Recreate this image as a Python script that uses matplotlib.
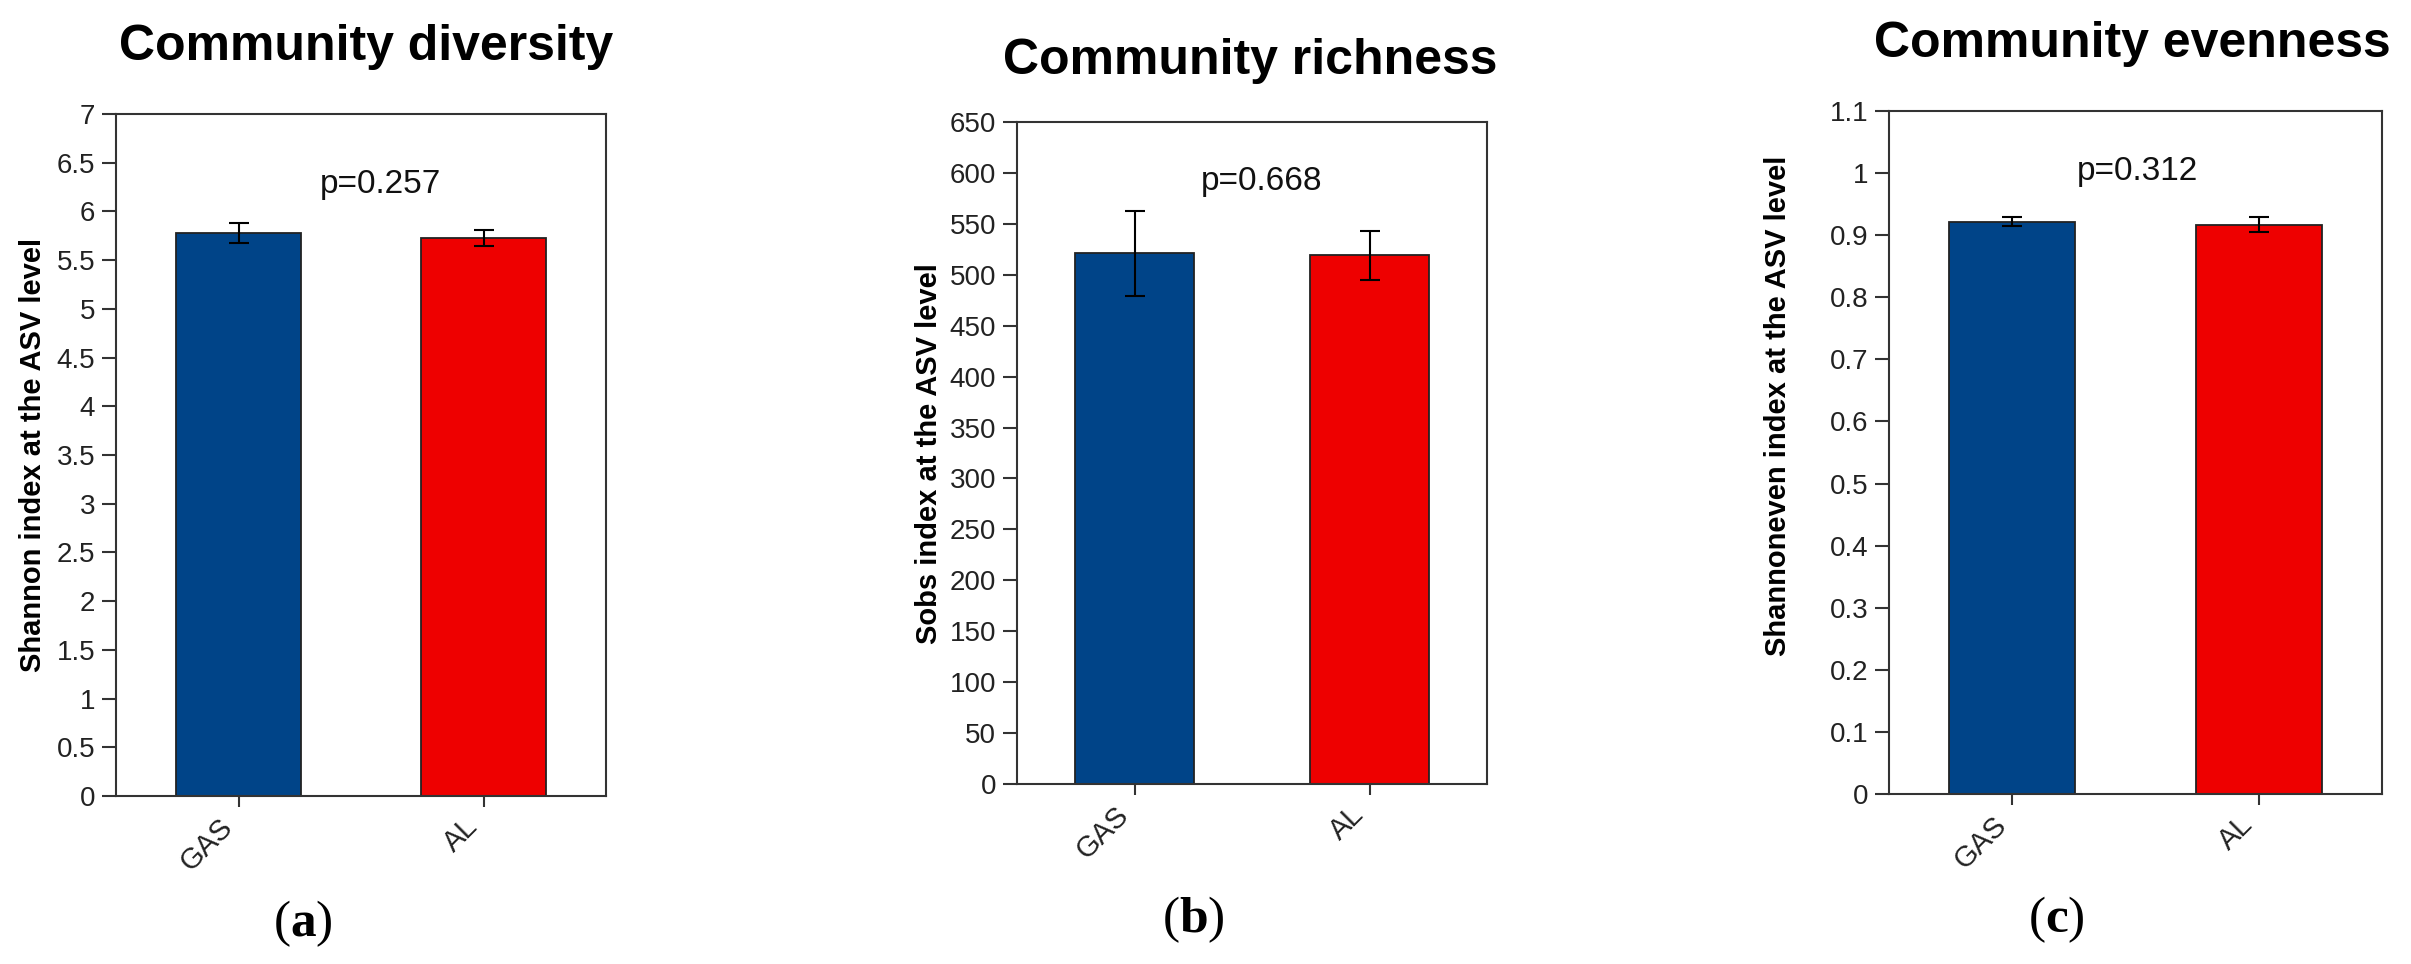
import matplotlib
matplotlib.use("Agg")
import matplotlib.pyplot as plt
from matplotlib import font_manager

# data
groups = ["GAS", "AL"]

shannon_mean = [5.78, 5.73]
shannon_err = [0.10, 0.08]
shannon_ticks = [0, 0.5, 1, 1.5, 2, 2.5, 3, 3.5, 4, 4.5, 5, 5.5, 6, 6.5, 7]
shannon_labels = ["0", "0.5", "1", "1.5", "2", "2.5", "3", "3.5", "4", "4.5",
                  "5", "5.5", "6", "6.5", "7"]

sobs_mean = [521, 519]
sobs_err = [42, 24]
sobs_ticks = list(range(0, 651, 50))
sobs_labels = [str(t) for t in sobs_ticks]

even_mean = [0.922, 0.917]
even_err = [0.008, 0.012]
even_ticks = [0, 0.1, 0.2, 0.3, 0.4, 0.5, 0.6, 0.7, 0.8, 0.9, 1.0, 1.1]
even_labels = ["0", "0.1", "0.2", "0.3", "0.4", "0.5", "0.6", "0.7", "0.8",
               "0.9", "1", "1.1"]

titles = ["Community diversity", "Community richness", "Community evenness"]
ylabels = ["Shannon index at the ASV level", "Sobs index at the ASV level",
           "Shannoneven index at the ASV level"]
pvals = ["p=0.257", "p=0.668", "p=0.312"]
panel_tags = ["a", "b", "c"]

colors = ["#004488", "#EE0000"]

names = {f.name for f in font_manager.fontManager.ttflist}
sans = "Liberation Sans" if "Liberation Sans" in names else "DejaVu Sans"

plt.rcParams["font.family"] = [sans, "DejaVu Sans"]
plt.rcParams["mathtext.fontset"] = "custom"
plt.rcParams["mathtext.rm"] = "Liberation Serif"
plt.rcParams["mathtext.bf"] = "Liberation Serif:bold"

W, H = 2411, 964
fig = plt.figure(figsize=(W / 100, H / 100), dpi=100)

# axes boxes in pixels: left, top, right, bottom
boxes = [(116, 114, 606, 796), (1017, 122, 1487, 784), (1889, 111, 2382, 794)]
title_pos = [(366, 60), (1250, 74), (2132, 57)]
ylab_pos = [(33, 455), (929, 454), (1778, 406)]
tag_pos = [(303, 924), (1193, 920), (2056, 920)]
p_pos = [(0.578, 6.28), (0.542, 592), (0.506, 1.002)]

means = [shannon_mean, sobs_mean, even_mean]
errs = [shannon_err, sobs_err, even_err]
ticks = [shannon_ticks, sobs_ticks, even_ticks]
tlabels = [shannon_labels, sobs_labels, even_labels]

for i in range(3):
    l, t, r, b = boxes[i]
    ax = fig.add_axes([l / W, 1 - b / H, (r - l) / W, (b - t) / H])
    ax.bar([0, 1], means[i], width=0.51, color=colors,
           edgecolor="#222222", linewidth=1.3, zorder=2)
    ax.errorbar([0, 1], means[i], yerr=errs[i], fmt="none", ecolor="black",
                elinewidth=1.5, capsize=7, capthick=1.5, zorder=3)
    ax.set_xlim(-0.5, 1.5)
    ax.set_ylim(ticks[i][0], ticks[i][-1])
    ax.set_yticks(ticks[i])
    ax.set_yticklabels(tlabels[i])
    ax.set_xticks([0, 1])
    ax.set_xticklabels(groups, rotation=45, ha="right")
    for s in ax.spines.values():
        s.set_color("#333333")
        s.set_linewidth(1.5)
    ax.tick_params(axis="y", length=10, width=1.5, color="#333333",
                   labelsize=20, labelcolor="#222222", pad=5)
    ax.tick_params(axis="x", length=8, width=1.5, color="#333333",
                   labelsize=21, labelcolor="#222222", pad=4)

    ax.text(p_pos[i][0], p_pos[i][1], pvals[i], fontsize=24,
            ha="center", va="center", color="#111111")

    fig.text(title_pos[i][0] / W, 1 - title_pos[i][1] / H, titles[i],
             fontsize=36, fontweight="bold", ha="center", va="baseline")

    fig.text(ylab_pos[i][0] / W, 1 - ylab_pos[i][1] / H, ylabels[i],
             fontsize=21, fontweight="bold",
             rotation=90, ha="center", va="center")

    fig.text(tag_pos[i][0] / W, 1 - tag_pos[i][1] / H,
             "(" + r"$\mathbf{" + panel_tags[i] + "}$" + ")",
             family="Liberation Serif", fontsize=37,
             ha="center", va="center")

fig.savefig("out.png", dpi=100)
